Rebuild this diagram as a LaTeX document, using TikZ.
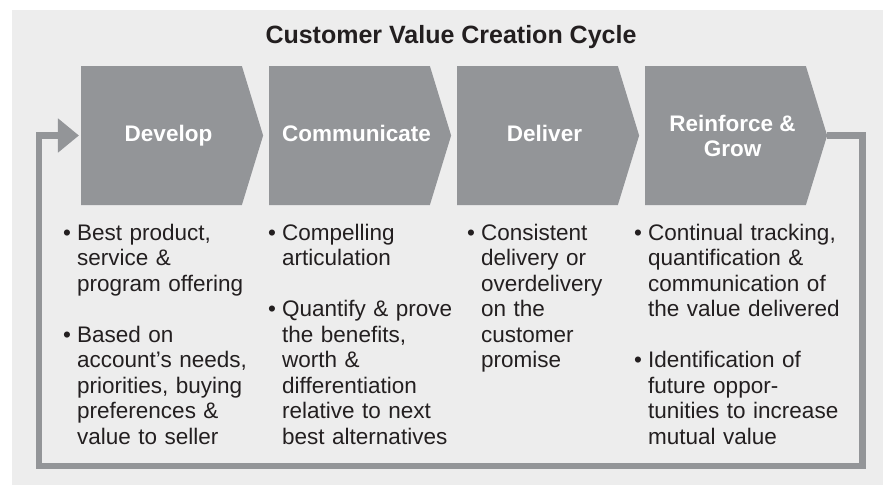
\documentclass[tikz,border=0pt]{standalone}
\usepackage{fontspec}
\setmainfont{Liberation Sans}
\usetikzlibrary{shapes.symbols,arrows.meta,calc}
\definecolor{stagegray}{RGB}{147,149,152}
\definecolor{panelgray}{RGB}{237,237,237}
\definecolor{inkgray}{RGB}{35,31,32}
\newcommand{\bul}{\makebox[14pt][l]{\textbullet}}
\newcommand{\ind}{\hspace*{14pt}}

\begin{document}
\begin{tikzpicture}[x=1pt,y=-1pt]
    \tikzset{Stage/.style = {shape=signal, signal from=nowhere, signal to=east,
        signal pointer angle=146, minimum width=182pt, minimum height=139pt,
        inner sep=0pt, fill=stagegray},
      StageText/.style = {xshift=7pt, text=white, align=center,
        font=\fontsize{22.5}{25}\selectfont\bfseries},
      StageLine/.style = {StageText, text height=16.5pt, text depth=4.7pt},
      Points/.style = {anchor=base west, text width=235pt, align=left,
        inner sep=0pt, text=inkgray, font=\fontsize{22.5}{25.5}\selectfont},
      LoopStyle/.style = {draw=stagegray, line width=6.5pt,
        -{Triangle[length=21pt,width=33pt]}, shorten >=2pt}}
    \useasboundingbox (0,0) rectangle (883,485);
    \fill[panelgray] (12,10) rectangle (883,485);

    \node[anchor=base, text=inkgray, font=\fontsize{25}{30}\selectfont\bfseries] (Title) at (451,43) {Customer Value Creation Cycle};

    \node[Stage, label={[StageLine]center:Develop}] (Dev) at (161.5,135.5) {};
    \node[Stage, label={[StageLine]center:Communicate}] (Com) at (349.5,135.5) {};
    \node[Stage, label={[StageLine]center:Deliver}] (Del) at (537.5,135.5) {};
    \node[Stage, label={[StageText]center:{Reinforce \&\\Grow}}] (Grow) at (725.5,135.5) {};

    % feedback loop back to the first stage
    \coordinate (BR) at (862.5,466);
    \coordinate (BL) at (39,466);
    \draw[LoopStyle] (Grow.east) -| (BR) -- (BL) |- (Dev.west);

    \node[Points] (T1) at (63,240) {\bul Best product,\\ \ind service \&\\ \ind program offering\\[25.5pt]
      \bul Based on\\ \ind account’s needs,\\ \ind priorities, buying\\ \ind preferences \&\\ \ind value to seller};
    \node[Points] (T2) at (268,240) {\bul Compelling\\ \ind articulation\\[25.5pt]
      \bul Quantify \& prove\\ \ind the benefits,\\ \ind worth \&\\ \ind differentiation\\ \ind relative to next\\ \ind best alternatives};
    \node[Points] (T3) at (467,240) {\bul Consistent\\ \ind delivery or\\ \ind overdelivery\\ \ind on the\\ \ind customer\\ \ind promise};
    \node[Points] (T4) at (634,240) {\bul Continual tracking,\\ \ind quantification \&\\ \ind communication of\\ \ind the value delivered\\[25.5pt]
      \bul Identification of\\ \ind future oppor-\\ \ind tunities to increase\\ \ind mutual value};
\end{tikzpicture}
\end{document}
